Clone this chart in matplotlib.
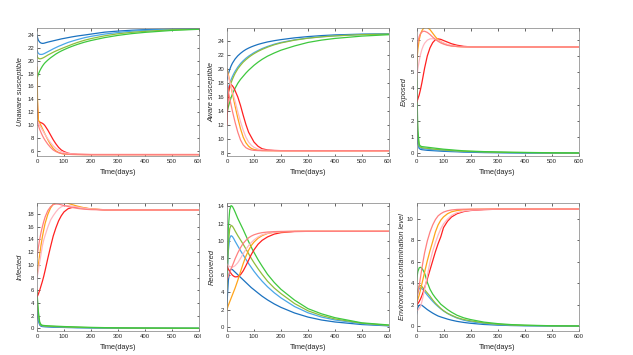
import matplotlib
matplotlib.use("Agg")
import matplotlib.pyplot as plt
from matplotlib.transforms import Bbox, TransformedBbox

# ---------------- data ----------------
T = [0, 2, 5, 10, 15, 20, 25, 30, 40, 50, 60, 70, 80, 90, 100, 115, 130, 150, 175, 200, 250, 300, 350, 400, 500, 600]

# Unaware susceptible
US_blue = [24.0, 23.6, 23.2, 22.9, 22.75, 22.7, 22.72, 22.78, 22.9, 23.0, 23.1, 23.2, 23.3, 23.4, 23.48, 23.6, 23.72, 23.86, 24.0, 24.15, 24.45, 24.62, 24.75, 24.84, 24.94, 24.98]
US_lblue = [21.7, 21.4, 21.15, 21.0, 20.98, 21.0, 21.08, 21.18, 21.4, 21.62, 21.85, 22.05, 22.25, 22.42, 22.6, 22.85, 23.05, 23.3, 23.58, 23.8, 24.15, 24.4, 24.6, 24.73, 24.9, 24.97]
US_olive = [20.8, 20.55, 20.38, 20.3, 20.32, 20.4, 20.5, 20.62, 20.88, 21.1, 21.32, 21.52, 21.7, 21.88, 22.05, 22.3, 22.55, 22.85, 23.18, 23.45, 23.88, 24.2, 24.42, 24.58, 24.82, 24.93]
US_green = [17.2, 17.5, 17.9, 18.4, 18.8, 19.15, 19.45, 19.7, 20.1, 20.45, 20.75, 21.05, 21.3, 21.52, 21.72, 22.0, 22.25, 22.55, 22.88, 23.15, 23.6, 23.95, 24.22, 24.42, 24.72, 24.9]
US_red = [16.5, 12.5, 10.6, 10.45, 10.35, 10.25, 10.1, 9.85, 9.2, 8.45, 7.7, 7.05, 6.5, 6.1, 5.85, 5.6, 5.48, 5.42, 5.4, 5.38, 5.38, 5.38, 5.38, 5.38, 5.38, 5.38]
US_orange = [19.0, 14.0, 10.8, 10.3, 9.9, 9.45, 9.0, 8.55, 7.7, 6.95, 6.35, 5.95, 5.7, 5.55, 5.47, 5.42, 5.4, 5.39, 5.38, 5.38, 5.38, 5.38, 5.38, 5.38, 5.38, 5.38]
US_salmon = [10.6, 10.3, 9.9, 9.3, 8.8, 8.35, 7.95, 7.6, 7.0, 6.5, 6.1, 5.85, 5.68, 5.57, 5.5, 5.44, 5.41, 5.39, 5.38, 5.38, 5.38, 5.38, 5.38, 5.38, 5.38, 5.38]
US_pink = [10.8, 10.6, 10.3, 9.9, 9.55, 9.2, 8.85, 8.5, 7.85, 7.25, 6.75, 6.35, 6.05, 5.85, 5.7, 5.57, 5.48, 5.42, 5.4, 5.38, 5.38, 5.38, 5.38, 5.38, 5.38, 5.38]

# Aware susceptible
AS_blue = [18.4, 18.8, 19.3, 19.9, 20.4, 20.8, 21.1, 21.4, 21.85, 22.2, 22.5, 22.75, 22.95, 23.12, 23.27, 23.47, 23.63, 23.82, 24.0, 24.15, 24.4, 24.58, 24.72, 24.82, 24.93, 24.97]
AS_lblue = [16.3, 16.7, 17.2, 17.9, 18.45, 18.9, 19.3, 19.65, 20.25, 20.75, 21.15, 21.5, 21.8, 22.05, 22.3, 22.6, 22.88, 23.18, 23.5, 23.75, 24.12, 24.38, 24.56, 24.7, 24.87, 24.95]
AS_olive = [15.6, 16.0, 16.6, 17.4, 18.0, 18.5, 18.95, 19.35, 20.0, 20.5, 20.95, 21.3, 21.62, 21.9, 22.15, 22.48, 22.76, 23.08, 23.42, 23.68, 24.07, 24.35, 24.54, 24.68, 24.86, 24.94]
AS_green = [13.8, 14.1, 14.6, 15.3, 15.9, 16.4, 16.85, 17.25, 17.95, 18.5, 18.95, 19.4, 19.8, 20.15, 20.5, 20.95, 21.35, 21.8, 22.25, 22.65, 23.25, 23.75, 24.08, 24.32, 24.65, 24.85]
AS_red = [12.0, 14.5, 16.6, 17.6, 17.75, 17.6, 17.3, 16.9, 16.0, 14.8, 13.4, 12.1, 11.0, 10.3, 9.6, 9.0, 8.65, 8.48, 8.41, 8.38, 8.37, 8.37, 8.37, 8.37, 8.37, 8.37]
AS_orange = [20.0, 19.7, 19.2, 18.3, 17.4, 16.5, 15.6, 14.7, 13.0, 11.5, 10.3, 9.5, 9.0, 8.7, 8.55, 8.45, 8.4, 8.38, 8.37, 8.37, 8.37, 8.37, 8.37, 8.37, 8.37, 8.37]
AS_salmon = [18.0, 17.5, 16.8, 15.8, 14.9, 14.0, 13.2, 12.4, 11.0, 9.9, 9.2, 8.8, 8.6, 8.48, 8.42, 8.39, 8.37, 8.37, 8.37, 8.37, 8.37, 8.37, 8.37, 8.37, 8.37, 8.37]
AS_pink = [19.5, 19.3, 18.9, 18.2, 17.5, 16.8, 16.1, 15.4, 13.9, 12.5, 11.3, 10.3, 9.6, 9.15, 8.85, 8.6, 8.48, 8.42, 8.39, 8.37, 8.37, 8.37, 8.37, 8.37, 8.37, 8.37]

# Exposed
E_blue = [3.0, 1.6, 0.6, 0.3, 0.25, 0.23, 0.22, 0.21, 0.19, 0.18, 0.17, 0.16, 0.15, 0.14, 0.13, 0.12, 0.11, 0.1, 0.08, 0.07, 0.05, 0.04, 0.03, 0.02, 0.015, 0.01]
E_lblue = [4.0, 2.2, 0.9, 0.38, 0.32, 0.3, 0.29, 0.28, 0.26, 0.24, 0.22, 0.21, 0.2, 0.19, 0.18, 0.16, 0.15, 0.13, 0.11, 0.1, 0.08, 0.06, 0.05, 0.04, 0.025, 0.02]
E_olive = [5.0, 2.8, 1.1, 0.45, 0.38, 0.35, 0.34, 0.33, 0.31, 0.29, 0.27, 0.25, 0.24, 0.22, 0.21, 0.19, 0.17, 0.15, 0.13, 0.12, 0.09, 0.07, 0.06, 0.05, 0.03, 0.02]
E_green = [6.5, 3.6, 1.4, 0.55, 0.45, 0.42, 0.41, 0.4, 0.38, 0.36, 0.34, 0.32, 0.3, 0.28, 0.26, 0.24, 0.22, 0.19, 0.16, 0.14, 0.11, 0.09, 0.07, 0.06, 0.04, 0.03]
E_red = [3.1, 3.2, 3.35, 3.6, 3.95, 4.35, 4.8, 5.25, 6.0, 6.5, 6.82, 7.0, 7.05, 7.02, 6.95, 6.85, 6.75, 6.66, 6.59, 6.56, 6.55, 6.55, 6.55, 6.55, 6.55, 6.55]
E_orange = [5.3, 5.8, 6.4, 7.0, 7.35, 7.55, 7.68, 7.74, 7.75, 7.62, 7.4, 7.18, 7.0, 6.88, 6.78, 6.68, 6.62, 6.58, 6.56, 6.55, 6.55, 6.55, 6.55, 6.55, 6.55, 6.55]
E_salmon = [6.0, 6.4, 6.85, 7.2, 7.38, 7.47, 7.52, 7.52, 7.45, 7.32, 7.16, 7.02, 6.9, 6.8, 6.73, 6.65, 6.61, 6.58, 6.56, 6.55, 6.55, 6.55, 6.55, 6.55, 6.55, 6.55]
E_pink = [4.5, 4.8, 5.2, 5.7, 6.1, 6.4, 6.62, 6.78, 6.97, 7.05, 7.06, 7.02, 6.96, 6.88, 6.8, 6.7, 6.64, 6.59, 6.56, 6.55, 6.55, 6.55, 6.55, 6.55, 6.55, 6.55]

# Infected
I_blue = [2.6, 1.9, 1.2, 0.55, 0.35, 0.3, 0.28, 0.26, 0.24, 0.22, 0.2, 0.19, 0.18, 0.17, 0.16, 0.14, 0.13, 0.11, 0.1, 0.08, 0.06, 0.05, 0.04, 0.03, 0.02, 0.015]
I_lblue = [3.5, 2.6, 1.6, 0.7, 0.45, 0.38, 0.36, 0.34, 0.31, 0.29, 0.27, 0.25, 0.24, 0.22, 0.21, 0.19, 0.17, 0.15, 0.13, 0.11, 0.09, 0.07, 0.05, 0.04, 0.03, 0.02]
I_olive = [5.0, 3.7, 2.2, 0.85, 0.5, 0.43, 0.4, 0.38, 0.35, 0.33, 0.31, 0.29, 0.27, 0.25, 0.24, 0.22, 0.2, 0.18, 0.15, 0.13, 0.1, 0.08, 0.06, 0.05, 0.035, 0.025]
I_green = [6.0, 4.5, 2.7, 1.0, 0.6, 0.5, 0.47, 0.45, 0.42, 0.4, 0.38, 0.36, 0.34, 0.32, 0.3, 0.28, 0.26, 0.23, 0.2, 0.17, 0.13, 0.1, 0.08, 0.07, 0.05, 0.04]
I_red = [5.0, 5.1, 5.4, 6.0, 6.7, 7.4, 8.2, 9.1, 11.0, 12.8, 14.5, 15.8, 16.9, 17.7, 18.3, 18.8, 19.0, 19.05, 18.9, 18.75, 18.62, 18.6, 18.6, 18.6, 18.6, 18.6]
I_orange = [8.4, 9.0, 10.0, 11.6, 13.1, 14.4, 15.5, 16.5, 17.9, 18.9, 19.5, 19.75, 19.85, 19.85, 19.8, 19.65, 19.45, 19.2, 18.95, 18.78, 18.64, 18.6, 18.6, 18.6, 18.6, 18.6]
I_salmon = [11.2, 11.8, 12.7, 14.0, 15.1, 16.0, 16.8, 17.5, 18.5, 19.1, 19.45, 19.55, 19.52, 19.42, 19.3, 19.15, 19.0, 18.85, 18.72, 18.66, 18.61, 18.6, 18.6, 18.6, 18.6, 18.6]
I_pink = [8.0, 8.4, 9.1, 10.4, 11.7, 13.0, 13.9, 14.6, 15.9, 17.0, 17.7, 18.3, 18.8, 19.1, 19.25, 19.3, 19.2, 19.05, 18.88, 18.76, 18.64, 18.6, 18.6, 18.6, 18.6, 18.6]

# Recovered
R_blue = [2.4, 3.8, 5.4, 6.5, 6.7, 6.65, 6.5, 6.35, 6.05, 5.75, 5.45, 5.15, 4.85, 4.55, 4.3, 3.92, 3.55, 3.12, 2.65, 2.25, 1.6, 1.12, 0.78, 0.55, 0.25, 0.1]
R_lblue = [4.0, 6.4, 8.8, 10.3, 10.6, 10.5, 10.25, 9.95, 9.4, 8.85, 8.35, 7.85, 7.35, 6.9, 6.45, 5.85, 5.3, 4.65, 3.95, 3.35, 2.35, 1.62, 1.12, 0.78, 0.35, 0.13]
R_olive = [4.5, 7.0, 9.6, 11.4, 11.8, 11.7, 11.45, 11.15, 10.6, 10.1, 9.6, 9.05, 8.5, 7.95, 7.45, 6.75, 6.1, 5.3, 4.5, 3.85, 2.7, 1.85, 1.3, 0.9, 0.4, 0.15]
R_green = [5.5, 8.5, 11.5, 13.6, 14.1, 14.0, 13.7, 13.35, 12.6, 11.95, 11.3, 10.6, 9.9, 9.25, 8.65, 7.8, 7.05, 6.1, 5.15, 4.35, 3.1, 2.1, 1.5, 1.05, 0.45, 0.2]
R_red = [7.0, 6.9, 6.7, 6.45, 6.2, 6.0, 5.88, 5.8, 5.82, 6.05, 6.5, 7.1, 7.75, 8.4, 8.95, 9.6, 10.05, 10.45, 10.78, 10.95, 11.08, 11.1, 11.1, 11.1, 11.1, 11.1]
R_orange = [2.0, 2.2, 2.5, 2.9, 3.3, 3.7, 4.1, 4.5, 5.4, 6.4, 7.35, 8.2, 8.9, 9.45, 9.85, 10.3, 10.6, 10.85, 11.0, 11.06, 11.1, 11.1, 11.1, 11.1, 11.1, 11.1]
R_salmon = [5.4, 5.6, 5.9, 6.3, 6.7, 7.1, 7.5, 7.9, 8.6, 9.2, 9.7, 10.05, 10.35, 10.55, 10.7, 10.85, 10.95, 11.02, 11.07, 11.09, 11.1, 11.1, 11.1, 11.1, 11.1, 11.1]
R_pink = [7.3, 7.2, 7.1, 7.0, 6.95, 6.95, 7.0, 7.1, 7.45, 7.95, 8.5, 9.0, 9.45, 9.8, 10.1, 10.45, 10.7, 10.88, 11.0, 11.06, 11.09, 11.1, 11.1, 11.1, 11.1, 11.1]

# Environment contamination level
W_blue = [1.1, 1.45, 1.75, 1.95, 2.0, 1.95, 1.85, 1.75, 1.55, 1.38, 1.22, 1.08, 0.95, 0.86, 0.78, 0.66, 0.56, 0.45, 0.35, 0.27, 0.16, 0.1, 0.06, 0.04, 0.015, 0.005]
W_lblue = [2.0, 2.6, 3.15, 3.5, 3.6, 3.5, 3.38, 3.22, 2.9, 2.6, 2.32, 2.06, 1.83, 1.62, 1.42, 1.18, 0.98, 0.76, 0.56, 0.42, 0.25, 0.15, 0.09, 0.06, 0.025, 0.01]
W_olive = [2.3, 2.9, 3.4, 3.75, 3.8, 3.7, 3.55, 3.4, 3.1, 2.8, 2.45, 2.15, 1.9, 1.65, 1.45, 1.2, 1.02, 0.8, 0.62, 0.5, 0.3, 0.18, 0.11, 0.07, 0.03, 0.015]
W_green = [4.0, 4.6, 5.1, 5.45, 5.5, 5.4, 5.2, 4.95, 4.1, 3.45, 3.0, 2.65, 2.35, 2.05, 1.85, 1.55, 1.3, 1.02, 0.78, 0.62, 0.38, 0.24, 0.15, 0.1, 0.04, 0.02]
W_red = [2.0, 2.05, 2.1, 2.3, 2.55, 2.85, 3.2, 3.6, 4.4, 5.25, 6.1, 6.95, 7.7, 8.35, 9.2, 9.8, 10.2, 10.5, 10.7, 10.8, 10.88, 10.92, 10.93, 10.93, 10.93, 10.93]
W_orange = [2.2, 2.3, 2.5, 2.9, 3.4, 3.95, 4.5, 5.05, 6.1, 7.05, 7.9, 8.8, 9.45, 9.9, 10.2, 10.5, 10.68, 10.8, 10.87, 10.9, 10.92, 10.93, 10.93, 10.93, 10.93, 10.93]
W_salmon = [2.6, 2.8, 3.1, 3.8, 4.6, 5.4, 6.15, 6.85, 7.95, 8.8, 9.45, 9.95, 10.3, 10.5, 10.65, 10.78, 10.85, 10.9, 10.92, 10.93, 10.93, 10.93, 10.93, 10.93, 10.93, 10.93]
W_pink = [1.4, 1.45, 1.5, 1.65, 1.85, 2.3, 2.85, 3.45, 4.7, 6.0, 7.0, 7.8, 8.5, 9.1, 9.55, 10.0, 10.35, 10.6, 10.75, 10.83, 10.9, 10.92, 10.93, 10.93, 10.93, 10.93]

Y_LABELS = ["Unaware susceptible", "Aware susceptible", "Exposed",
            "Infected", "Recovered", "Environment contamination level"]
X_LABEL = "Time(days)"
X_TICKS = [0, 100, 200, 300, 400, 500, 600]
Y_TICKS = [list(range(6, 25, 2)), list(range(8, 25, 2)), list(range(0, 8)),
           list(range(0, 19, 2)), list(range(0, 15, 2)), list(range(0, 11, 2))]

# ---------------- style ----------------
C_BLUE, C_LBLUE, C_OLIVE, C_GREEN = "#1b72c0", "#4aa6e8", "#8fbd3c", "#3ec83e"
C_RED, C_ORANGE, C_PINK, C_SALMON = "#ff2020", "#ffa41a", "#ffb8c2", "#ff8080"
TXT = "#262626"
plt.rcParams["font.family"] = ["Liberation Sans", "DejaVu Sans"]

panels = [
    (US_blue, US_lblue, US_olive, US_green, US_red, US_orange, US_pink, US_salmon),
    (AS_blue, AS_lblue, AS_olive, AS_green, AS_red, AS_orange, AS_pink, AS_salmon),
    (E_blue, E_lblue, E_olive, E_green, E_red, E_orange, E_pink, E_salmon),
    (I_blue, I_lblue, I_olive, I_green, I_red, I_orange, I_pink, I_salmon),
    (R_blue, R_lblue, R_olive, R_green, R_red, R_orange, R_pink, R_salmon),
    (W_blue, W_lblue, W_olive, W_green, W_red, W_orange, W_pink, W_salmon),
]
colors = [C_BLUE, C_LBLUE, C_OLIVE, C_GREEN, C_RED, C_ORANGE, C_PINK, C_SALMON]
ylims = [(5.16, 25.1), (7.62, 25.8), (-0.16, 7.72), (-0.4, 19.7), (-0.5, 14.4), (-0.45, 11.5)]
ylabel_x = [-0.08, -0.074, -0.055, -0.08, -0.07, -0.062]

W, H = 633, 355
fig = plt.figure(figsize=(W / 100, H / 100), dpi=100)
fig.patch.set_facecolor("white")
lefts = [37, 227, 416.5]
tops = [28, 203]
aw, ah = 162, 128

for k, series in enumerate(panels):
    r, c = divmod(k, 3)
    x0 = lefts[c] / W
    y0 = 1 - (tops[r] + ah) / H
    ax = fig.add_axes([x0, y0, aw / W, ah / H])
    for s, col in zip(series, colors):
        ax.plot(T, s, color=col, lw=0.9)
    ax.set_xlim(0, 600)
    ax.set_ylim(*ylims[k])
    ax.set_xticks(X_TICKS)
    ax.set_yticks(Y_TICKS[k])
    ax.tick_params(direction="in", length=1.8, width=0.5, labelsize=4.3,
                   colors=TXT, top=True, right=True, pad=2)
    for sp in ax.spines.values():
        sp.set_linewidth(0.5)
        sp.set_color("#7f7f7f")
    ax.set_xlabel(X_LABEL, fontsize=5.3, color=TXT, labelpad=1.5)
    ax.set_ylabel(Y_LABELS[k], fontsize=5.3, color=TXT, style="italic")
    ax.yaxis.set_label_coords(ylabel_x[k], 0.5)
    ax.xaxis.set_label_coords(0.5, -0.105)
    if c < 2:
        lab = ax.xaxis.get_major_ticks()[-1].label1
        clip = TransformedBbox(Bbox([[0, 0], [(lefts[c] + aw + 2) / W, 1]]), fig.transFigure)
        lab.set_clip_box(clip)
        lab.set_clip_on(True)

fig.savefig("out.png", dpi=100, facecolor="white")
